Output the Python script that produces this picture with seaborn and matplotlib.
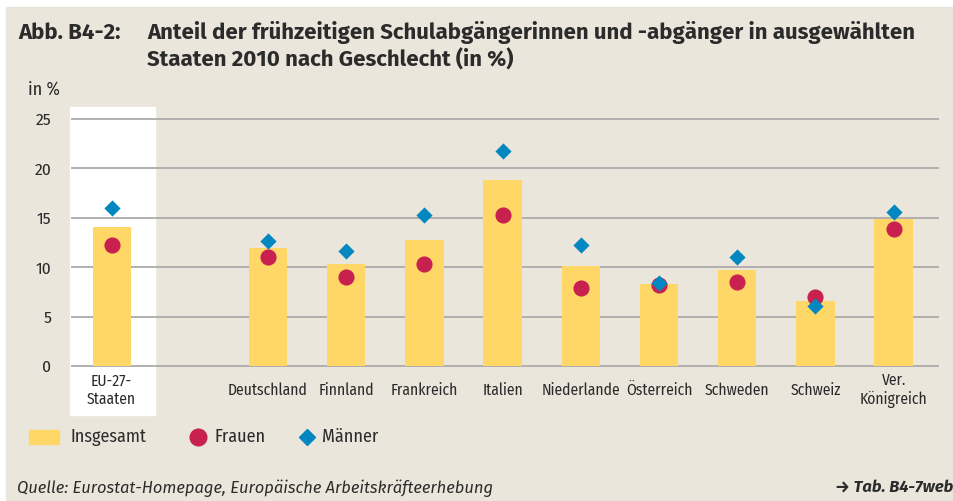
import numpy as np
import pandas as pd
import seaborn as sns
import matplotlib
matplotlib.use('Agg')
import matplotlib.pyplot as plt
from matplotlib.patches import Rectangle
from matplotlib.lines import Line2D

# data (in %)
laender = ["EU-27-\nStaaten", "Deutschland", "Finnland", "Frankreich", "Italien",
           "Niederlande", "Österreich", "Schweden", "Schweiz", "Ver.\nKönigreich"]
position = [0, 2, 3, 4, 5, 6, 7, 8, 9, 10]
insgesamt = [14.1, 11.9, 10.3, 12.8, 18.8, 10.1, 8.3, 9.7, 6.6, 14.9]
frauen = [12.2, 11.0, 9.0, 10.3, 15.3, 7.9, 8.2, 8.5, 7.0, 13.9]
maenner = [16.0, 12.7, 11.6, 15.3, 21.8, 12.2, 8.4, 11.0, 6.1, 15.6]
y_ticks = [0, 5, 10, 15, 20, 25]

df = pd.DataFrame({"pos": position, "land": laender, "insgesamt": insgesamt,
                   "frauen": frauen, "maenner": maenner})

GELB = "#ffd766"
ROT = "#c8214f"
BLAU = "#0287c0"
BEIGE = "#ebe6dc"
GRAU = "#ababab"
TXT = "#2b2b2b"

sns.set_style("white")
plt.rcParams['font.family'] = ['Fira Sans Condensed', 'DejaVu Sans']
WIDE = ['Fira Sans', 'Fira Sans Condensed', 'DejaVu Sans']

W, H = 954, 501
fig = plt.figure(figsize=(W / 100, H / 100), dpi=100, facecolor="white")

def fx(px):
    return px / W

def fy(py):
    return 1 - py / H

# beige panel and white EU band
fig.patches.append(Rectangle((fx(6), 0), 1, fy(7), transform=fig.transFigure,
                             color=BEIGE, zorder=-3))
fig.patches.append(Rectangle((fx(70), fy(415)), fx(155) - fx(70), fy(107) - fy(415),
                             transform=fig.transFigure, color="white", zorder=-2))

y0, y1 = -0.2, 25.2
px_per = (366 - 119) / 25
ax_bot = 366 + 0.2 * px_per
ax_top = 119 - 0.2 * px_per
ax = fig.add_axes([fx(71), fy(ax_bot), fx(939) - fx(71), (ax_bot - ax_top) / H])
ax.set_facecolor("none")

sns.barplot(data=df, x="pos", y="insgesamt", native_scale=True, width=0.49,
            color=GELB, saturation=1, linewidth=0, ax=ax, zorder=2)
sns.scatterplot(data=df, x="pos", y="frauen", marker="o", s=135, color=ROT,
                linewidth=0, ax=ax, zorder=3)
sns.scatterplot(data=df, x="pos", y="maenner", marker="D", s=68, color=BLAU,
                linewidth=0, ax=ax, zorder=4)

ax.set_xlim(-0.52, 10.58)
ax.set_ylim(y0, y1)
for v in y_ticks:
    ax.axhline(v, color=GRAU, lw=1.3, zorder=1)
sns.despine(ax=ax, left=True, bottom=True, top=True, right=True)
ax.set_xlabel("")
ax.set_ylabel("")
ax.set_yticks(y_ticks)
ax.set_yticklabels([str(v) for v in y_ticks], fontsize=12.5, color=TXT)
ax.set_xticks(position)
ax.set_xticklabels(laender, fontsize=11.2, color=TXT, linespacing=1.15)
ax.tick_params(axis="y", length=0, pad=14)
ax.tick_params(axis="x", length=0, pad=16)
for lab in ax.get_xticklabels():
    lab.set_verticalalignment("center")
ax.grid(False)

# title
fig.text(fx(18), fy(33), "Abb. B4-2:", fontsize=16, fontweight="bold",
         color=TXT, va="center", family=WIDE)
fig.text(fx(147), fy(33), "Anteil der frühzeitigen Schulabgängerinnen und -abgänger in ausgewählten",
         fontsize=16, fontweight="bold", color=TXT, va="center", family=WIDE)
fig.text(fx(147), fy(60), "Staaten 2010 nach Geschlecht (in %)",
         fontsize=16, fontweight="bold", color=TXT, va="center", family=WIDE)
fig.text(fx(28), fy(90), "in %", fontsize=13, color=TXT, va="center")

# legend
fig.patches.append(Rectangle((fx(29), fy(444)), fx(59) - fx(29), fy(430) - fy(444),
                             transform=fig.transFigure, color=GELB))
fig.text(fx(70), fy(437), "Insgesamt", fontsize=13, color=TXT, va="center")
fig.add_artist(Line2D([fx(198)], [fy(437)], marker="o", markersize=12, color=ROT,
                      lw=0, transform=fig.transFigure))
fig.text(fx(215), fy(437), "Frauen", fontsize=13, color=TXT, va="center")
fig.add_artist(Line2D([fx(307)], [fy(437)], marker="D", markersize=8.2, color=BLAU,
                      lw=0, transform=fig.transFigure))
fig.text(fx(322), fy(437), "Männer", fontsize=13, color=TXT, va="center")

# footer
fig.text(fx(17), fy(488), "Quelle: Eurostat-Homepage, Europäische Arbeitskräfteerhebung",
         fontsize=11.9, style="italic", color=TXT, va="center", family=WIDE)
fig.text(fx(953), fy(487), "→ Tab. B4-7web", fontsize=11.9, style="italic",
         fontweight="bold", color=TXT, va="center", ha="right", family=WIDE)

fig.savefig("out.png", dpi=100, facecolor=fig.get_facecolor())
